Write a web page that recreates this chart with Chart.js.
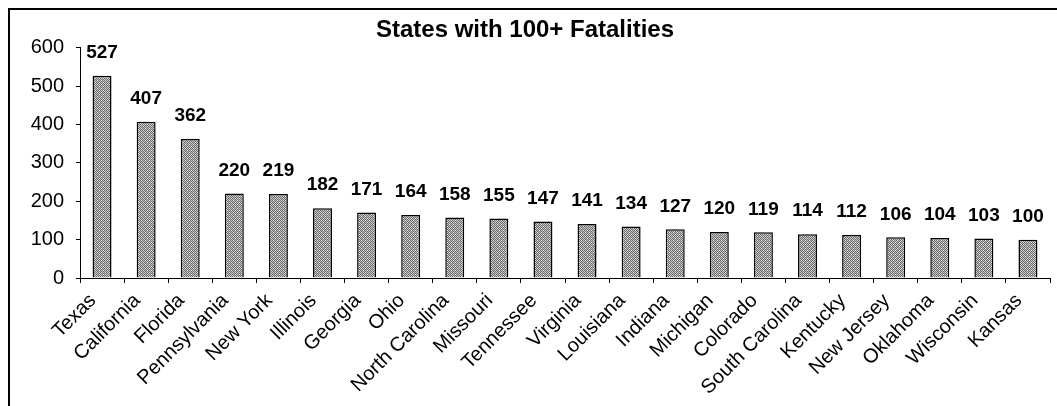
<!DOCTYPE html>
<html>
<head>
<meta charset="utf-8">
<script src="https://cdn.jsdelivr.net/npm/chart.js@4"></script>
<style>
  body { margin: 0; background: #fff; }
  #wrap { position: absolute; left: 0; top: 0; width: 1057px; height: 406px; }
</style>
</head>
<body>
<div id="wrap"><canvas id="grafico" width="1057" height="406"></canvas></div>
<script>
const estados = ["Texas","California","Florida","Pennsylvania","New York","Illinois","Georgia","Ohio",
  "North Carolina","Missouri","Tennessee","Virginia","Louisiana","Indiana","Michigan","Colorado",
  "South Carolina","Kentucky","New Jersey","Oklahoma","Wisconsin","Kansas"];
const mortes = [527,407,362,220,219,182,171,164,158,155,147,141,134,127,120,119,114,112,106,104,103,100];
const ticksY = [0,100,200,300,400,500,600];

const fonte = "'Liberation Sans', Arial, sans-serif";

// hachura cinza tipo excel
function padrao() {
  const c = document.createElement("canvas");
  c.width = 4; c.height = 4;
  const x = c.getContext("2d");
  x.fillStyle = "#c4c4c4"; x.fillRect(0,0,4,4);
  x.fillStyle = "#6a6a6a";
  [[0,0],[2,0],[1,1],[3,1],[0,2],[2,2],[1,3],[3,3]].forEach(p=>x.fillRect(p[0],p[1],1,1));
  x.fillStyle = "#e8e8e8"; x.fillRect(3,2,1,1); x.fillRect(1,0,1,1);
  return x.createPattern(c,"repeat");
}

const moldura = {
  id: "moldura",
  beforeDraw(ch) {
    const ctx = ch.ctx;
    ctx.save();
    ctx.strokeStyle = "#000"; ctx.lineWidth = 2;
    ctx.beginPath();
    ctx.moveTo(9, 406); ctx.lineTo(9, 9); ctx.lineTo(1057, 9);
    ctx.stroke();
    ctx.restore();
  }
};

const rotulos = {
  id: "rotulos",
  afterDatasetsDraw(ch) {
    const ctx = ch.ctx;
    ctx.save();
    ctx.font = "bold 19px " + fonte;
    ctx.fillStyle = "#000";
    ctx.textAlign = "center";
    ctx.textBaseline = "middle";
    ch.getDatasetMeta(0).data.forEach((b,i)=>{
      ctx.fillText(String(mortes[i]), b.x, b.y - 23);
    });
    ctx.restore();
  }
};

new Chart(grafico, {
  type: "bar",
  data: {
    labels: estados,
    datasets: [{
      data: mortes,
      backgroundColor: padrao(),
      borderColor: "#000",
      borderWidth: 1.5,
      barPercentage: 0.43,
      categoryPercentage: 1
    }]
  },
  options: {
    responsive: false,
    animation: false,
    layout: { padding: { left: 0, right: 7, top: 0, bottom: 0 } },
    plugins: {
      legend: { display: false },
      tooltip: { enabled: false },
      title: {
        display: true,
        text: "States with 100+ Fatalities",
        color: "#000",
        font: { family: fonte, size: 24, weight: "bold" },
        padding: { top: 16, bottom: 3 }
      }
    },
    scales: {
      x: {
        grid: { display: true, drawOnChartArea: false, offset: true, color: "#000", tickLength: 5 },
        border: { color: "#000", width: 1 },
        ticks: { color: "#000", font: { family: fonte, size: 20 }, minRotation: 45, maxRotation: 45, autoSkip: false, padding: 6, labelOffset: -9 },
        afterFit: s => { s.height = 128; }
      },
      y: {
        min: 0, max: 600,
        afterBuildTicks: s => { s.ticks = ticksY.map(v=>({value:v})); },
        grid: { display: true, drawOnChartArea: false, color: "#000", tickLength: 4 },
        border: { color: "#000", width: 1 },
        ticks: { color: "#000", font: { family: fonte, size: 20 }, padding: 12 },
        afterFit: s => { s.width = 80; }
      }
    }
  },
  plugins: [moldura, rotulos]
});
</script>
</body>
</html>
